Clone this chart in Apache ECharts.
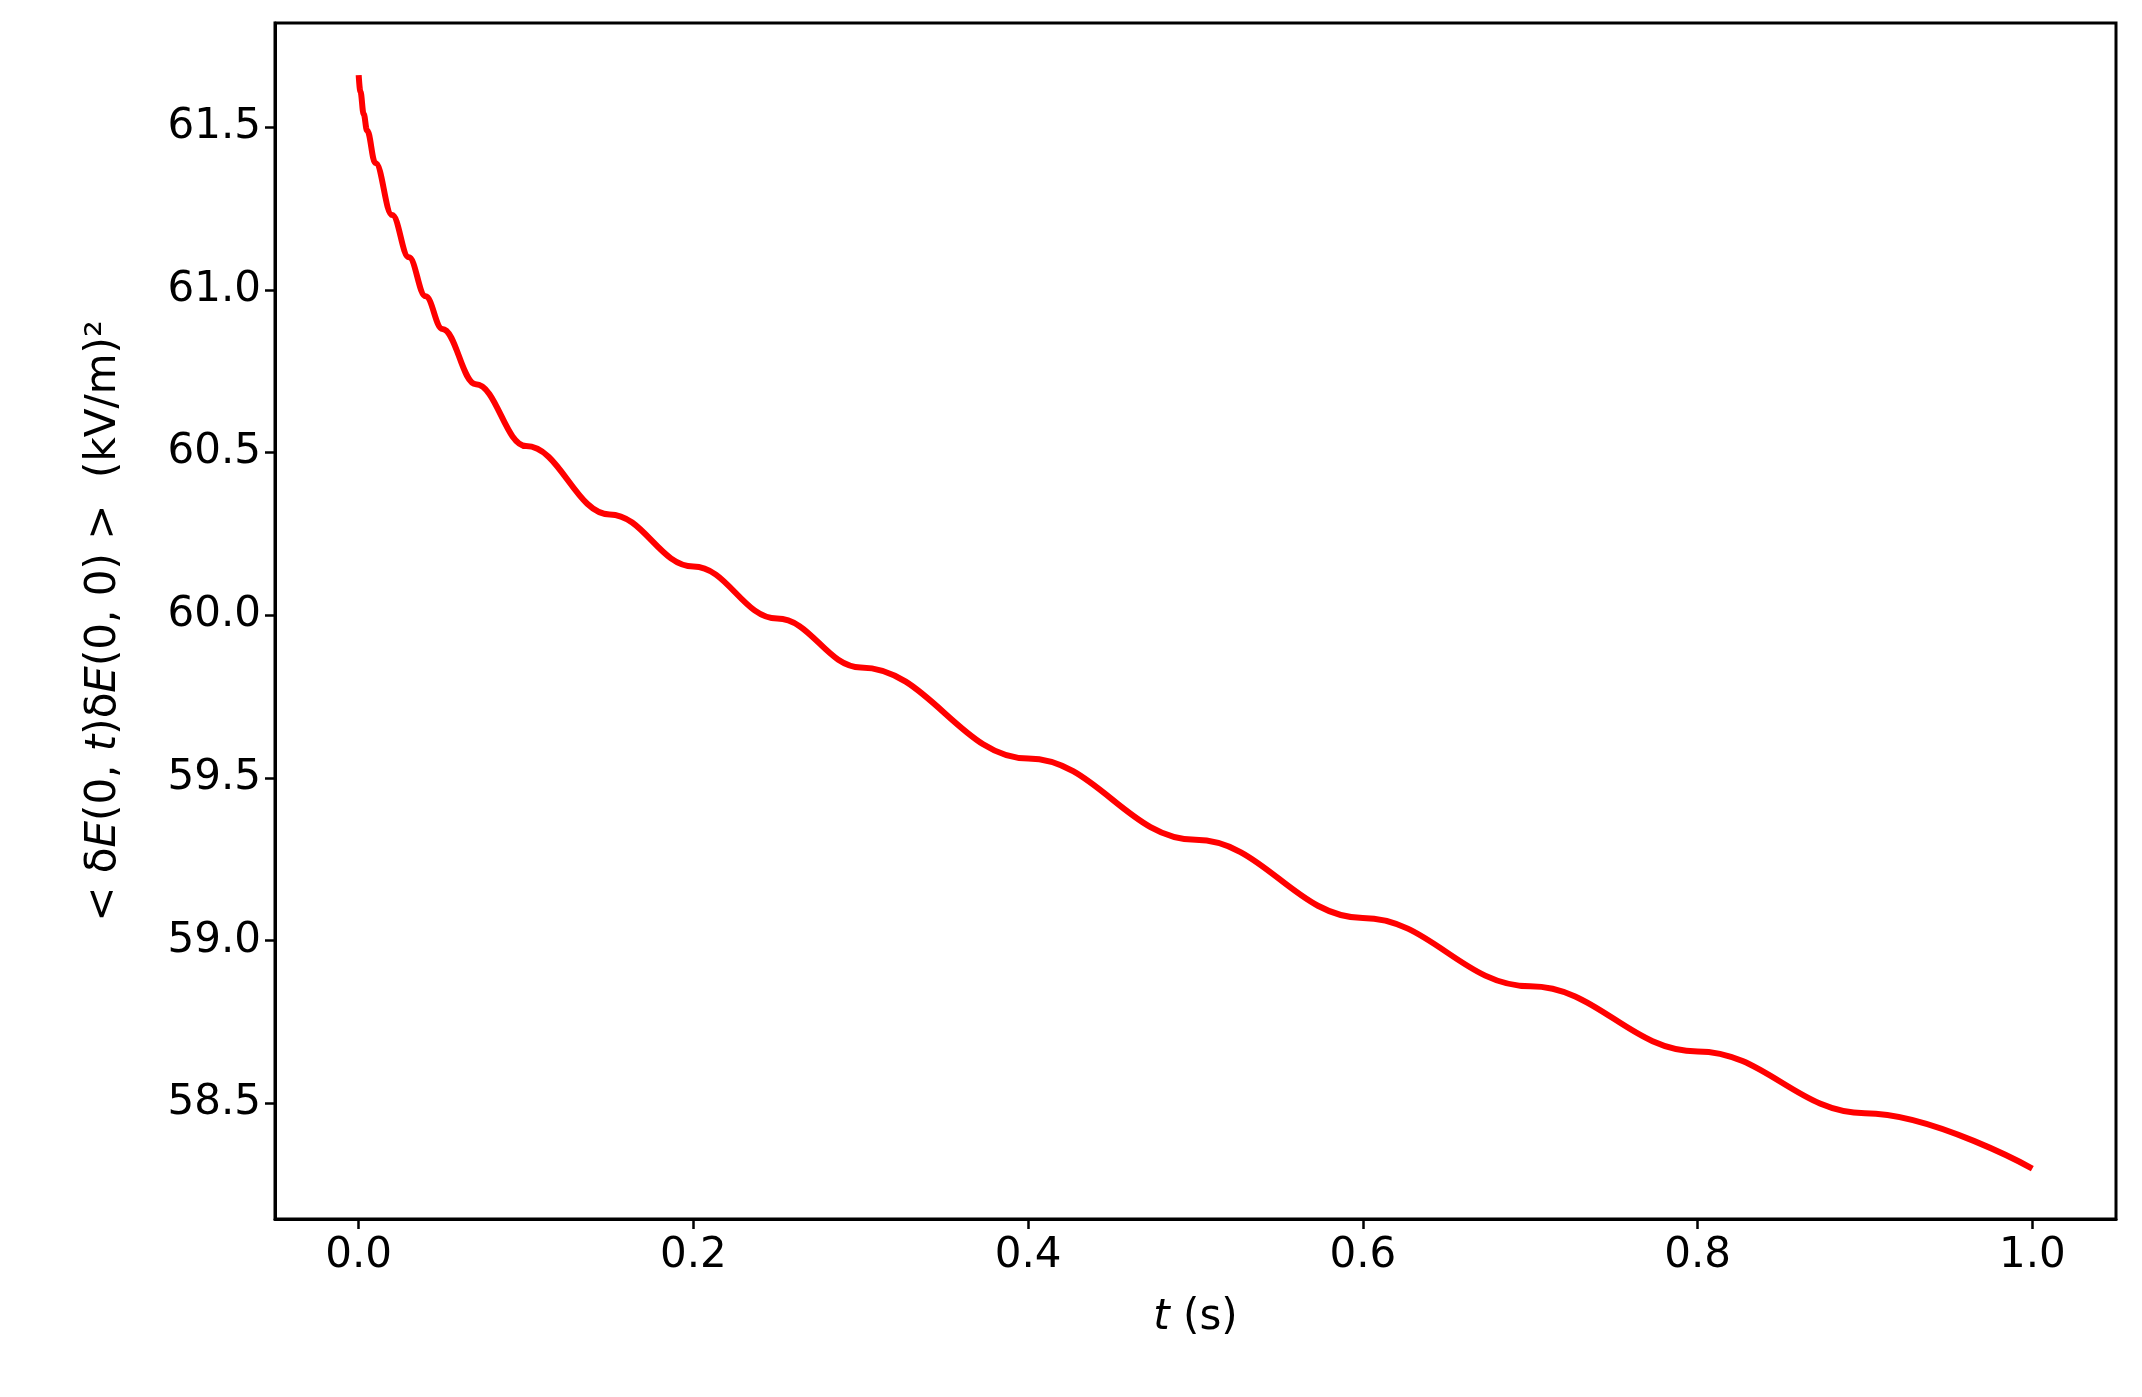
<!DOCTYPE html>
<html>
<head>
<meta charset="utf-8">
<script src="https://cdn.jsdelivr.net/npm/echarts@6/dist/echarts.min.js"></script>
<style>html,body{margin:0;padding:0;background:#fff}#chart{width:2142px;height:1397px}</style>
</head>
<body>
<div id="chart"></div>
<script>
// values
var times = [0, 0.001, 0.003, 0.005, 0.01, 0.02, 0.03, 0.04, 0.05, 0.07, 0.1, 0.15, 0.2, 0.25, 0.3, 0.4, 0.5, 0.6, 0.7, 0.8, 0.9, 1.0];
var corr = [61.66, 61.61, 61.54, 61.49, 61.39, 61.23, 61.10, 60.98, 60.88, 60.71, 60.52, 60.31, 60.15, 59.99, 59.84, 59.56, 59.31, 59.07, 58.86, 58.66, 58.47, 58.30];
var xTicks = [0.0, 0.2, 0.4, 0.6, 0.8, 1.0];
var yTicks = [58.5, 59.0, 59.5, 60.0, 60.5, 61.0, 61.5];

var chart = echarts.init(document.getElementById('chart'));
var font = 'DejaVu Sans';
var fs = 42;
chart.setOption({
	animation: false,
	grid: { left: 275, right: 26, top: 23, bottom: 178, show: true, borderColor: '#000', borderWidth: 3 },
	xAxis: {
		type: 'value', min: -0.05, max: 1.05,
		name: '{i|t} (s)', nameLocation: 'middle', nameGap: 78,
		nameTextStyle: { fontFamily: font, fontSize: fs, color: '#000', rich: { i: { fontStyle: 'italic', fontFamily: font, fontSize: fs } } },
		axisLine: { show: true, onZero: false, lineStyle: { color: '#000', width: 3 } }, splitLine: { show: false },
		axisTick: { show: true, length: 10, lineStyle: { color: '#000', width: 2.5 }, customValues: xTicks },
		axisLabel: { fontFamily: font, fontSize: fs, color: '#000', margin: 16, customValues: xTicks,
			formatter: function (v) { return v.toFixed(1); } }
	},
	yAxis: {
		type: 'value', min: 58.145, max: 61.82,
		name: '{n|< δ}{i|E}{n|(0, }{i|t}{n|)δ}{i|E}{n|(0, 0) >  (kV/m)²}', nameLocation: 'middle', nameGap: 150,
		nameTextStyle: { rich: {
			n: { fontFamily: font, fontSize: fs, color: '#000' },
			i: { fontFamily: font, fontSize: fs, color: '#000', fontStyle: 'italic' } } },
		axisLine: { show: true, onZero: false, lineStyle: { color: '#000', width: 3 } }, splitLine: { show: false },
		axisTick: { show: true, length: 10, lineStyle: { color: '#000', width: 2.5 }, customValues: yTicks },
		axisLabel: { fontFamily: font, fontSize: fs, color: '#000', margin: 14, customValues: yTicks,
			formatter: function (v) { return v.toFixed(1); } }
	},
	series: [{
		type: 'line', smooth: 0.4, smoothMonotone: 'x', showSymbol: false,
		lineStyle: { color: '#ff0000', width: 6 },
		data: times.map(function (t, i) { return [t, corr[i]]; })
	}]
});
</script>
</body>
</html>
